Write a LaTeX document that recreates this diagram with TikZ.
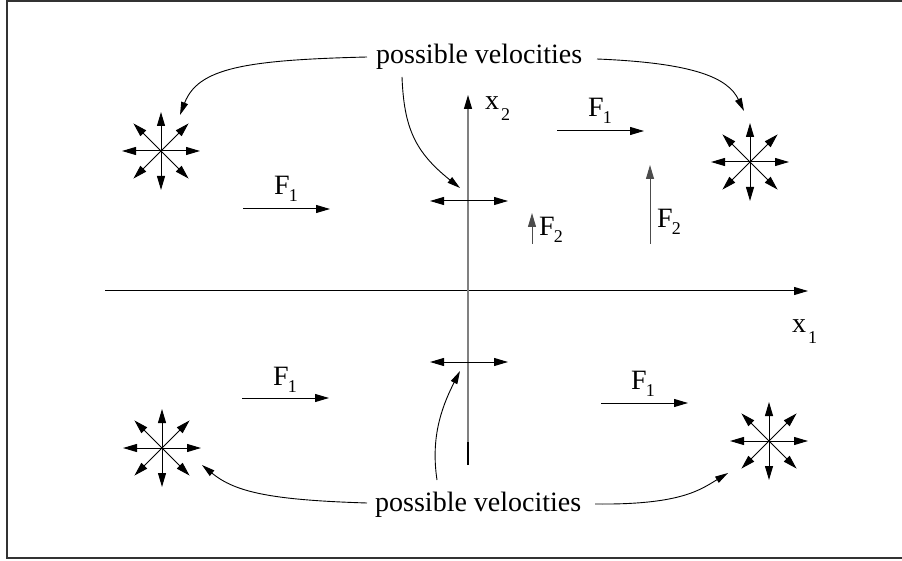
\documentclass[tikz,border=0pt]{standalone}
\usepackage{fontspec}
\setmainfont{Liberation Serif}
\usetikzlibrary{arrows.meta}
\newcommand{\Fsub}[2]{#1\kern-1pt\raisebox{-7pt}{\fontsize{18}{18}\selectfont #2}}
\newcommand{\Xsub}[2]{#1\kern2pt\raisebox{-11pt}{\fontsize{18}{18}\selectfont #2}}
\tikzset{
 lbl/.style={font=\fontsize{28}{30}\selectfont, inner sep=0pt, anchor=base west},
 vec/.style={-{Triangle[length=14pt,width=8pt]}, line width=1pt},
 dvec/.style={{Triangle[length=14pt,width=8pt]}-{Triangle[length=14pt,width=8pt]}, line width=1pt},
 callout/.style={-{Triangle[length=13pt,width=7pt]}, line width=0.9pt},
 vaxis/.style={-{Triangle[length=14pt,width=8pt,color=black]}, line width=1.2pt, draw=black!50},
}
\begin{document}
\begin{tikzpicture}[x=1pt,y=-1pt]
\useasboundingbox (0,0) rectangle (902,561);
\draw[line width=1.2pt, black!80] (7,1) rectangle (912,558);

% axes
\coordinate (h0) at (105,291);
\coordinate (h1) at (808,291);
\draw[vec] (h0) -- (h1);
\coordinate (v0) at (468,465);
\coordinate (v1) at (468,95);
\draw[vaxis] (v0) -- (v1);
\coordinate (vb0) at (468,442);
\draw[line width=2pt] (vb0) -- (v0);
\node[lbl] (x1) at (792,332) {\Xsub{x}{1}};
\node[lbl] (x2) at (485,110) {\Xsub{x}{2}};

% central possible velocities
\coordinate (ct0) at (430,201);
\coordinate (ct1) at (508,201);
\draw[dvec] (ct0) -- (ct1);
\coordinate (cb0) at (430,362);
\coordinate (cb1) at (508,362);
\draw[dvec] (cb0) -- (cb1);

% stars
\coordinate (sTL) at (161,151);
\coordinate (sTR) at (750,162);
\coordinate (sBL) at (162,448);
\coordinate (sBR) at (769,441);
\foreach \c in {sTL,sTR,sBL,sBR}{
  \foreach \a in {0,45,...,315}{
    \draw[vec] (\c) -- ++(\a:39);
  }
}

% forces F1
\coordinate (fa0) at (243,209); \coordinate (fa1) at (330,209);
\draw[vec] (fa0) -- (fa1);
\node[lbl] (fa) at (274,195) {\Fsub{F}{1}};
\coordinate (fb0) at (557,131); \coordinate (fb1) at (644,131);
\draw[vec] (fb0) -- (fb1);
\node[lbl] (fb) at (588,117) {\Fsub{F}{1}};
\coordinate (fc0) at (242,398); \coordinate (fc1) at (329,398);
\draw[vec] (fc0) -- (fc1);
\node[lbl] (fc) at (273,385) {\Fsub{F}{1}};
\coordinate (fd0) at (601,403); \coordinate (fd1) at (688,403);
\draw[vec] (fd0) -- (fd1);
\node[lbl] (fd) at (631,389) {\Fsub{F}{1}};

% forces F2
\coordinate (ga0) at (532,244); \coordinate (ga1) at (532,213);
\draw[vec, draw=black!70] (ga0) -- (ga1);
\node[lbl] (ga) at (539,236) {\Fsub{F}{2}};
\coordinate (gb0) at (650,244); \coordinate (gb1) at (650,165);
\draw[vec, draw=black!70] (gb0) -- (gb1);
\node[lbl] (gb) at (657,228) {\Fsub{F}{2}};

% labels
\node[lbl] (pvtop) at (376,64) {possible velocities};
\node[lbl] (pvbot) at (375,511) {possible velocities};

% callouts
\coordinate (a1) at (367,57);  \coordinate (e1) at (180,115);
\draw[callout] (a1) .. controls (245,60) and (198,68) .. (e1);
\coordinate (a2) at (402,77);  \coordinate (e2) at (460,188);
\draw[callout] (a2) .. controls (404,128) and (415,152) .. (e2);
\coordinate (a3) at (597,59);  \coordinate (e3) at (744,111);
\draw[callout] (a3) .. controls (695,63) and (728,78) .. (e3);
\coordinate (a4) at (437,480); \coordinate (e4) at (460,371);
\draw[callout] (a4) .. controls (431,440) and (440,410) .. (e4);
\coordinate (a5) at (367,503); \coordinate (e5) at (202,465);
\draw[callout] (a5) .. controls (270,500) and (235,492) .. (e5);
\coordinate (a6) at (595,504); \coordinate (e6) at (728,473);
\draw[callout] (a6) .. controls (680,505) and (700,490) .. (e6);
\end{tikzpicture}
\end{document}
